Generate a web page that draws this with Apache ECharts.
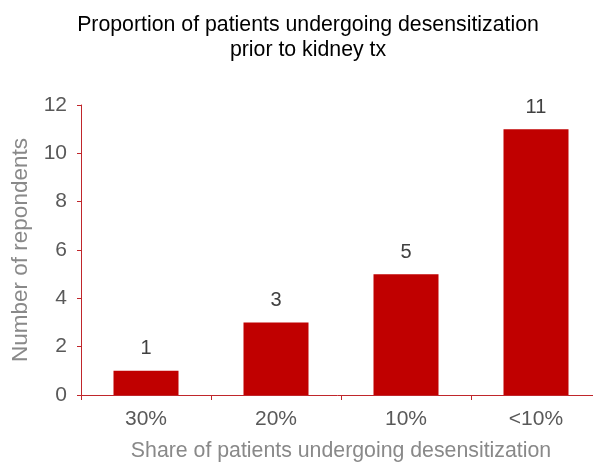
<!DOCTYPE html>
<html>
<head>
<meta charset="utf-8">
<script src="https://cdn.jsdelivr.net/npm/echarts@6/dist/echarts.min.js"></script>
<style>
  html, body { margin: 0; padding: 0; background: #fff; }
  #chart { width: 593px; height: 462px; }
</style>
</head>
<body>
<div id="chart"></div>
<script>
// chart data
var categories = ['30%', '20%', '10%', '<10%'];
var respondents = [1, 3, 5, 11];
var yTicks = [0, 2, 4, 6, 8, 10, 12];

var chart = echarts.init(document.getElementById('chart'));
var font = 'Liberation Sans, Arial, sans-serif';

chart.setOption({
  backgroundColor: '#fff',
  animation: false,
  title: {
    text: 'Proportion of patients undergoing desensitization\nprior to kidney tx',
    left: 303,
    textAlign: 'center',
    top: 8,
    textStyle: { fontFamily: font, fontSize: 21.3, fontWeight: 'normal', color: '#000', lineHeight: 25 }
  },
  // plot area runs a little past the right edge, like the original
  grid: { left: 81, top: 105, width: 520, height: 290, outerBoundsMode: 'none', containLabel: false },
  xAxis: {
    type: 'category',
    data: categories,
    name: 'Share of patients undergoing desensitization',
    nameLocation: 'middle',
    nameGap: 46,
    nameTextStyle: { fontFamily: font, fontSize: 21.3, color: '#898989' },
    axisLine: { lineStyle: { color: '#C0262B', width: 1 } },
    axisTick: { show: true, length: 5, lineStyle: { color: '#C0262B' } },
    axisLabel: { fontFamily: font, fontSize: 21, color: '#595959', margin: 14 }
  },
  yAxis: {
    type: 'value',
    min: yTicks[0],
    max: yTicks[yTicks.length - 1],
    interval: 2,
    name: 'Number of repondents',
    nameLocation: 'middle',
    nameGap: 46,
    nameTextStyle: { fontFamily: font, fontSize: 22.5, color: '#898989' },
    axisLine: { show: true, lineStyle: { color: '#C0262B', width: 1 } },
    axisTick: { show: true, length: 4, lineStyle: { color: '#C0262B' } },
    axisLabel: { fontFamily: font, fontSize: 21, color: '#595959', margin: 14 },
    splitLine: { show: false }
  },
  series: [{
    type: 'bar',
    data: respondents,
    barWidth: '50%',
    itemStyle: { color: '#C00000' },
    label: {
      show: true,
      position: 'top',
      distance: 12,
      fontFamily: font,
      fontSize: 20,
      color: '#404040'
    }
  }]
});
</script>
</body>
</html>
